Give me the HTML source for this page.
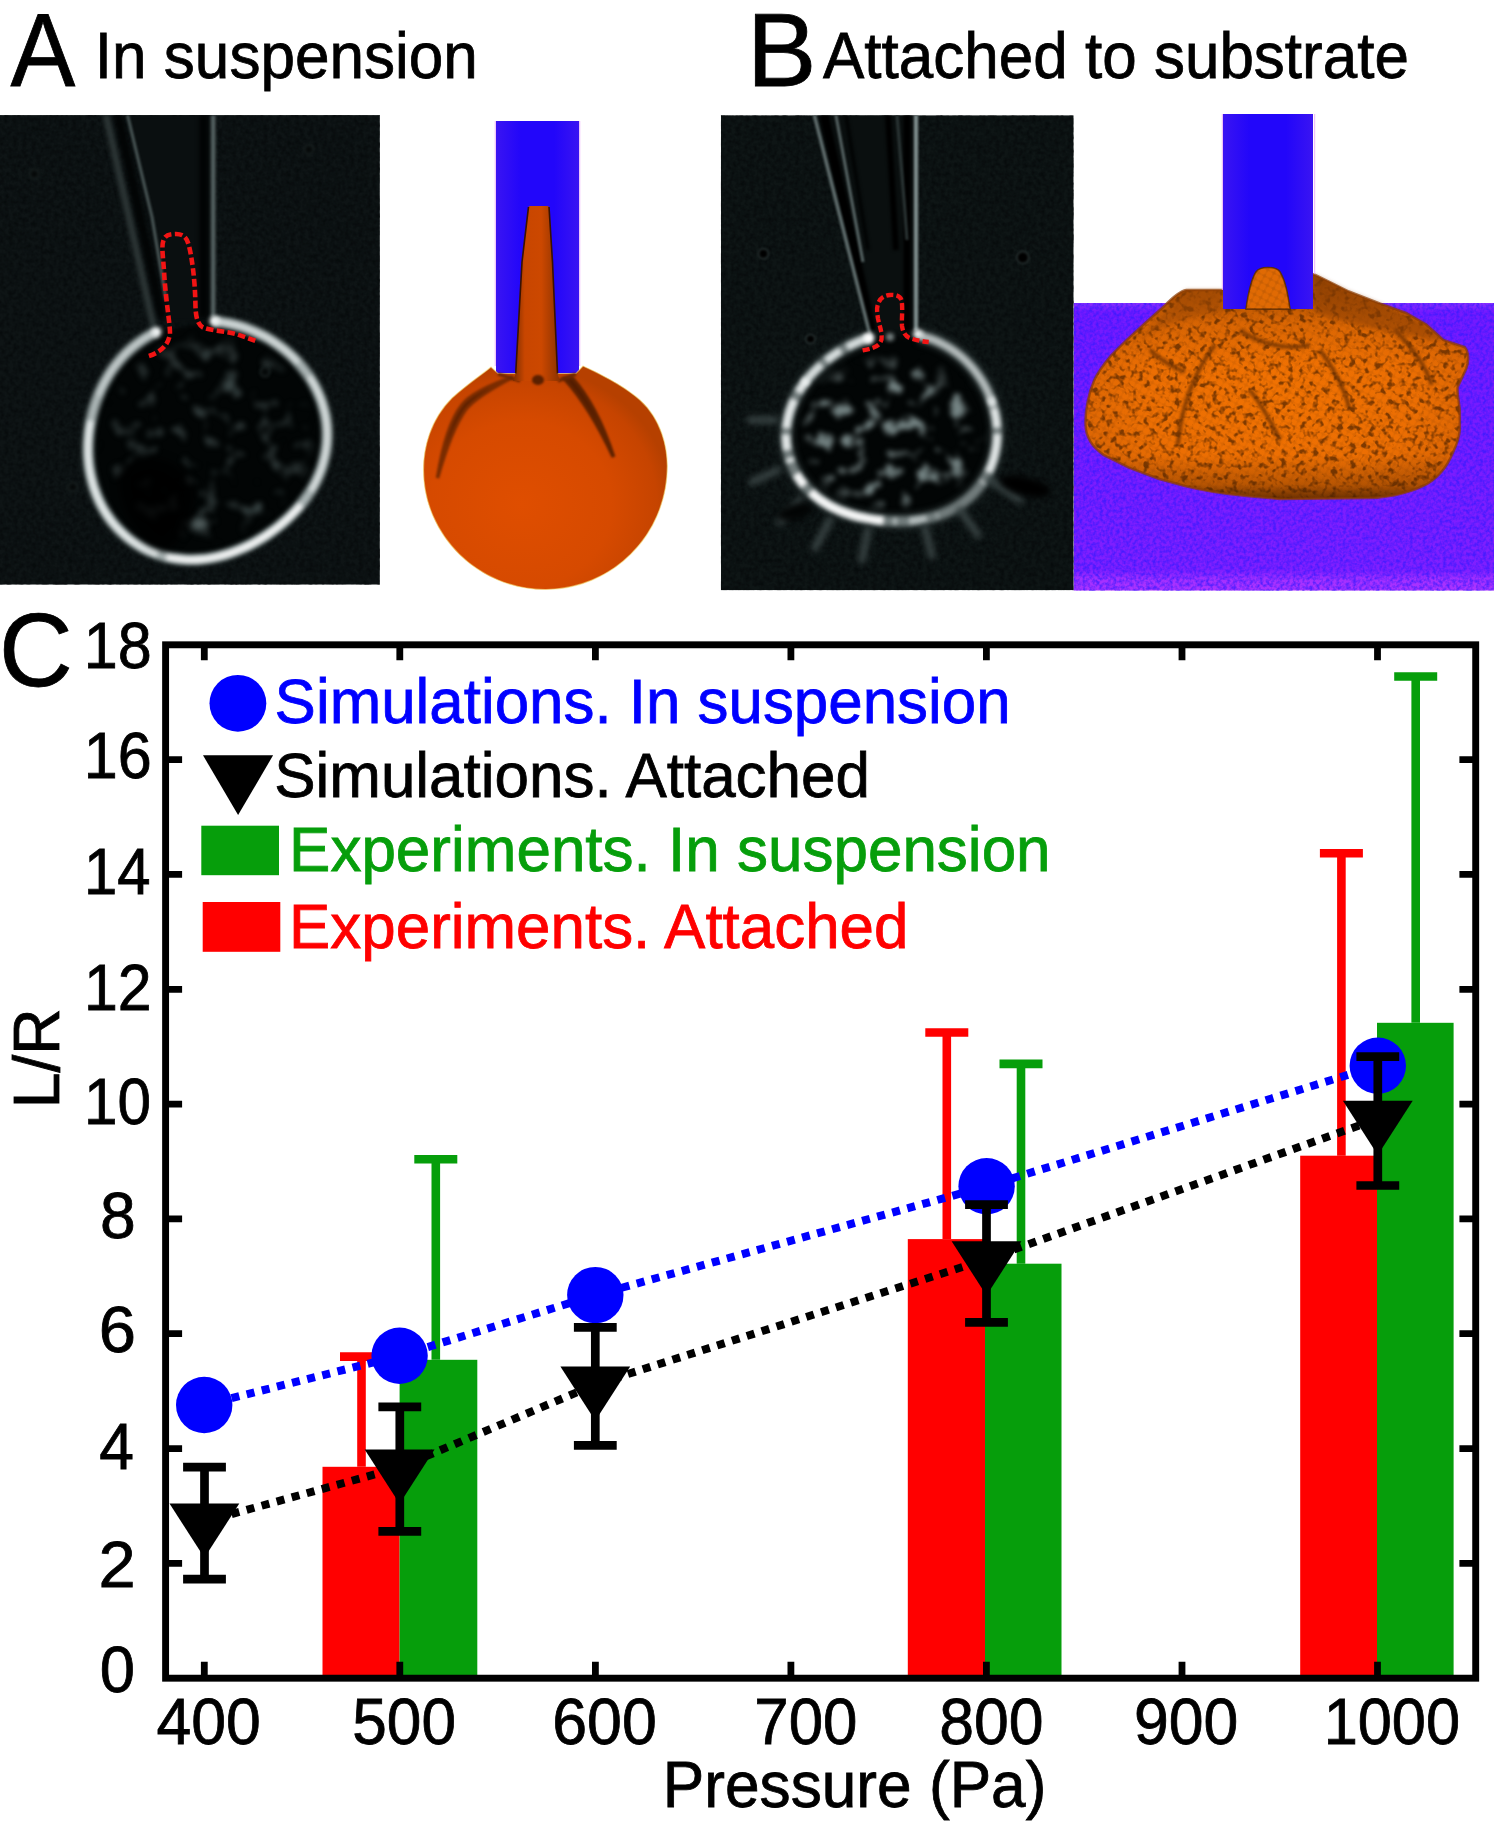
<!DOCTYPE html>
<html><head><meta charset="utf-8"><title>Figure</title>
<style>html,body{margin:0;padding:0;background:#fff}svg{display:block}text{font-family:"Liberation Sans",sans-serif}</style>
</head><body>
<svg width="1494" height="1821" viewBox="0 0 1494 1821">
<rect width="1494" height="1821" fill="#fff"/>
<text transform="translate(10.41,86.20) scale(0.9280,1)" font-size="104.65" fill="#000" stroke="#000" stroke-width="0.8" >A</text>
<text transform="translate(94.81,78.10) scale(0.9472,1)" font-size="65.55" fill="#000" stroke="#000" stroke-width="0.8" >In suspension</text>
<text transform="translate(746.73,86.20) scale(1.0002,1)" font-size="104.65" fill="#000" stroke="#000" stroke-width="0.8" >B</text>
<text transform="translate(822.99,78.10) scale(0.9460,1)" font-size="65.55" fill="#000" stroke="#000" stroke-width="0.8" >Attached to substrate</text>
<text transform="translate(-1.10,686.30) scale(0.9753,1)" font-size="104.65" fill="#000" stroke="#000" stroke-width="0.8" >C</text>
<defs>
<filter color-interpolation-filters="sRGB" id="b1" filterUnits="userSpaceOnUse" x="0" y="100" width="1494" height="500"><feGaussianBlur stdDeviation="1"/></filter>
<filter color-interpolation-filters="sRGB" id="b15" filterUnits="userSpaceOnUse" x="0" y="100" width="1494" height="500"><feGaussianBlur stdDeviation="1.6"/></filter>
<filter color-interpolation-filters="sRGB" id="b2" filterUnits="userSpaceOnUse" x="0" y="100" width="1494" height="500"><feGaussianBlur stdDeviation="2.2"/></filter>
<filter color-interpolation-filters="sRGB" id="b3" filterUnits="userSpaceOnUse" x="0" y="100" width="1494" height="500"><feGaussianBlur stdDeviation="3.2"/></filter>
<filter color-interpolation-filters="sRGB" id="b5" filterUnits="userSpaceOnUse" x="0" y="100" width="1494" height="500"><feGaussianBlur stdDeviation="5"/></filter>
<filter color-interpolation-filters="sRGB" id="b8" filterUnits="userSpaceOnUse" x="0" y="100" width="1494" height="500"><feGaussianBlur stdDeviation="8"/></filter>
<filter color-interpolation-filters="sRGB" id="noise" x="0" y="0" width="100%" height="100%">
 <feTurbulence type="fractalNoise" baseFrequency="0.22" numOctaves="2" seed="3" result="n"/>
 <feColorMatrix in="n" type="matrix" values="0 0 0 0 0.025  0 0 0 0 0.04  0 0 0 0 0.045  2.2 0 0 0 -0.75"/>
</filter>
<filter color-interpolation-filters="sRGB" id="motA" filterUnits="userSpaceOnUse" x="60" y="300" width="300" height="290">
 <feTurbulence type="fractalNoise" baseFrequency="0.05" numOctaves="2" seed="11" result="n"/>
 <feColorMatrix in="n" type="matrix" values="0 0 0 0 0.24  0 0 0 0 0.29  0 0 0 0 0.29  4.0 0 0 0 -2.2" result="c"/>
 <feGaussianBlur in="SourceAlpha" stdDeviation="6" result="m"/>
 <feComposite in="c" in2="m" operator="in"/><feGaussianBlur stdDeviation="2.8"/>
</filter>
<filter color-interpolation-filters="sRGB" id="motB" filterUnits="userSpaceOnUse" x="760" y="320" width="270" height="230">
 <feTurbulence type="fractalNoise" baseFrequency="0.06" numOctaves="2" seed="5" result="n"/>
 <feColorMatrix in="n" type="matrix" values="0 0 0 0 0.46  0 0 0 0 0.52  0 0 0 0 0.52  5.0 0 0 0 -2.65" result="c"/>
 <feGaussianBlur in="SourceAlpha" stdDeviation="6" result="m"/>
 <feComposite in="c" in2="m" operator="in"/><feGaussianBlur stdDeviation="2.4"/>
</filter>
<linearGradient id="gCol" x1="0" x2="1" y1="0" y2="0"><stop offset="0" stop-color="#3a14f2"/><stop offset="0.3" stop-color="#2206fa"/><stop offset="0.7" stop-color="#2206fa"/><stop offset="1" stop-color="#3a14f2"/></linearGradient>
<filter color-interpolation-filters="sRGB" id="noiseP" x="0" y="0" width="100%" height="100%">
 <feTurbulence type="fractalNoise" baseFrequency="0.3" numOctaves="2" seed="9" result="n"/>
 <feColorMatrix in="n" type="matrix" values="0 0 0 0 0.2  0 0 0 0 0.1  0 0 0 0 1  2.4 0 0 0 -0.85"/>
</filter>
<linearGradient id="gMsh" gradientUnits="userSpaceOnUse" x1="0" x2="0" y1="274" y2="500">
 <stop offset="0" stop-color="#5a2800" stop-opacity="0.55"/><stop offset="0.22" stop-color="#5a2800" stop-opacity="0.12"/><stop offset="0.4" stop-color="#5a2800" stop-opacity="0"/>
 <stop offset="0.8" stop-color="#4a2000" stop-opacity="0"/><stop offset="0.93" stop-color="#4a2000" stop-opacity="0.3"/><stop offset="1" stop-color="#3a1800" stop-opacity="0.75"/>
</linearGradient>
<filter color-interpolation-filters="sRGB" id="motM" filterUnits="userSpaceOnUse" x="1070" y="260" width="424" height="250">
 <feTurbulence type="fractalNoise" baseFrequency="0.16" numOctaves="2" seed="21" result="n"/>
 <feColorMatrix in="n" type="matrix" values="0 0 0 0 0.36  0 0 0 0 0.16  0 0 0 0 0.0  4.5 0 0 0 -2.3" result="c"/>
 <feComposite in="c" in2="SourceAlpha" operator="in"/>
</filter>
<clipPath id="cA"><rect x="0" y="115.1" width="379.9" height="469.6"/></clipPath>
<clipPath id="cB"><rect x="720.9" y="115.2" width="352.8" height="475.0"/></clipPath>
<clipPath id="cS"><rect x="1073.7" y="100" width="420.3" height="490.7"/></clipPath>
<radialGradient id="gSph" cx="0.40" cy="0.62" r="0.62">
 <stop offset="0" stop-color="#df4e00"/><stop offset="0.6" stop-color="#d64a00"/><stop offset="0.9" stop-color="#c64400"/><stop offset="1" stop-color="#b64000"/>
</radialGradient>
<linearGradient id="gTon" x1="0" x2="1" y1="0" y2="0">
 <stop offset="0" stop-color="#7a2c00"/><stop offset="0.25" stop-color="#c84600"/><stop offset="0.6" stop-color="#cc4800"/><stop offset="1" stop-color="#8a3200"/>
</linearGradient>
<linearGradient id="gPur" x1="0" x2="0" y1="0" y2="1">
 <stop offset="0" stop-color="#8a30ff"/><stop offset="0.03" stop-color="#741aff"/><stop offset="0.5" stop-color="#781cff"/><stop offset="0.93" stop-color="#8020ff"/><stop offset="0.96" stop-color="#a430ff"/><stop offset="1" stop-color="#ac34ff"/>
</linearGradient>
<radialGradient id="gMnd" cx="0.5" cy="0.55" r="0.6">
 <stop offset="0" stop-color="#f27202"/><stop offset="0.6" stop-color="#ec6e03"/><stop offset="0.9" stop-color="#d66204"/><stop offset="1" stop-color="#b85205"/>
</radialGradient>
<pattern id="bump" width="7" height="7" patternUnits="userSpaceOnUse" patternTransform="rotate(28)">
 <rect width="7" height="7" fill="#9a4a04"/><circle cx="3.5" cy="3.5" r="3.2" fill="#ea7003"/>
</pattern>
</defs>
<g clip-path="url(#cA)">
<rect x="0" y="115.1" width="379.9" height="469.6" fill="#0e1415"/>
<rect x="0" y="115.1" width="379.9" height="469.6" filter="url(#noise)" opacity="0.8"/>
<path d="M128 115L210 115L210 322L166 322Z" fill="#0a0f10" filter="url(#b2)"/>
<path d="M106 115L154 328" stroke="#2c3535" stroke-width="7" fill="none" filter="url(#b2)"/>
<path d="M118 115L162 318" stroke="#020404" stroke-width="8" fill="none" filter="url(#b2)"/>
<path d="M127.5 115L152 217L166 300" stroke="#465252" stroke-width="3.2" fill="none" filter="url(#b1)"/>
<path d="M203.5 115V318" stroke="#010303" stroke-width="8" fill="none" filter="url(#b2)"/>
<path d="M213.2 115V318" stroke="#566363" stroke-width="4.5" fill="none" filter="url(#b15)"/>
<path d="M156.1 332.0C154.8 332.7 150.9 334.6 148.3 336.1C145.8 337.6 143.3 339.2 140.9 340.9C138.5 342.6 136.1 344.4 133.8 346.3C131.6 348.1 129.4 350.1 127.2 352.1C125.1 354.2 123.1 356.3 121.1 358.5C119.2 360.7 117.3 362.9 115.5 365.3C113.7 367.6 112.0 370.0 110.4 372.4C108.8 374.9 107.3 377.4 105.9 379.9C104.4 382.4 103.1 385.0 101.8 387.6C100.5 390.3 99.4 392.9 98.3 395.6C97.2 398.3 96.2 401.1 95.2 403.8C94.3 406.6 93.5 409.4 92.7 412.2C92.0 415.0 91.3 417.9 90.8 420.7C90.2 423.6 89.7 426.5 89.3 429.4C88.9 432.3 88.6 435.2 88.4 438.1C88.1 441.0 88.0 444.0 88.0 446.9C87.9 449.9 88.0 452.8 88.1 455.8C88.3 458.8 88.6 461.7 88.9 464.7C89.3 467.7 89.7 470.6 90.3 473.6C90.9 476.5 91.6 479.5 92.4 482.4C93.1 485.3 94.0 488.2 95.1 491.0C96.1 493.9 97.2 496.7 98.5 499.5C99.7 502.3 101.1 505.0 102.6 507.7C104.1 510.4 105.7 513.0 107.4 515.5C109.1 518.1 110.9 520.6 112.9 523.0C114.8 525.3 116.9 527.6 119.0 529.8C121.2 532.0 123.4 534.2 125.8 536.1C128.1 538.1 130.6 540.0 133.1 541.8C135.6 543.5 138.2 545.2 140.9 546.7C143.5 548.2 146.3 549.6 149.1 550.9C151.9 552.1 154.7 553.2 157.6 554.2C160.5 555.2 163.4 556.1 166.3 556.8C169.3 557.5 172.2 558.1 175.2 558.5C178.2 559.0 181.2 559.3 184.1 559.5C187.1 559.7 190.1 559.8 193.0 559.7C196.0 559.7 198.9 559.5 201.8 559.2C204.7 559.0 207.6 558.6 210.5 558.1C213.3 557.6 216.2 557.0 218.9 556.4C221.7 555.7 224.5 555.0 227.2 554.1C229.9 553.3 232.5 552.4 235.1 551.4C237.8 550.4 240.3 549.3 242.9 548.2C245.4 547.1 247.9 545.9 250.3 544.7C252.8 543.4 255.2 542.1 257.5 540.8C259.9 539.4 262.2 538.0 264.5 536.6C266.8 535.1 269.0 533.6 271.2 532.0C273.4 530.5 275.6 528.9 277.7 527.2C279.8 525.5 281.9 523.8 283.9 522.0C286.0 520.2 288.0 518.4 289.9 516.5C291.9 514.6 293.8 512.7 295.6 510.7C297.5 508.7 299.3 506.6 301.0 504.5C302.8 502.3 304.4 500.2 306.1 497.9C307.7 495.7 309.2 493.3 310.7 491.0C312.2 488.6 313.6 486.2 314.9 483.7C316.2 481.2 317.4 478.6 318.5 476.0C319.6 473.4 320.7 470.8 321.6 468.1C322.5 465.4 323.3 462.6 324.0 459.8C324.7 457.1 325.3 454.2 325.8 451.4C326.3 448.6 326.6 445.7 326.9 442.8C327.1 439.9 327.2 437.0 327.2 434.1C327.2 431.2 327.0 428.3 326.8 425.4C326.5 422.5 326.1 419.6 325.6 416.7C325.1 413.8 324.4 411.0 323.6 408.2C322.9 405.3 322.0 402.5 321.0 399.8C320.0 397.0 318.9 394.3 317.7 391.7C316.4 389.0 315.1 386.4 313.7 383.9C312.2 381.3 310.7 378.8 309.1 376.4C307.5 374.0 305.7 371.6 303.9 369.3C302.1 367.0 300.3 364.8 298.3 362.6C296.3 360.5 294.3 358.4 292.2 356.4C290.1 354.4 287.9 352.5 285.7 350.6C283.4 348.8 281.1 347.0 278.8 345.3C276.4 343.6 274.0 342.0 271.6 340.5C269.1 338.9 266.6 337.5 264.0 336.1C261.5 334.8 258.9 333.5 256.2 332.3C253.6 331.1 250.9 330.0 248.2 329.0C245.5 327.9 242.7 327.0 239.9 326.2C237.1 325.4 234.3 324.6 231.5 324.0C228.6 323.3 225.8 322.8 222.9 322.4C220.0 321.9 215.6 321.5 214.2 321.3Z" fill="#020505" filter="url(#b2)"/>
<path d="M156.1 332.0C154.8 332.7 150.9 334.6 148.3 336.1C145.8 337.6 143.3 339.2 140.9 340.9C138.5 342.6 136.1 344.4 133.8 346.3C131.6 348.1 129.4 350.1 127.2 352.1C125.1 354.2 123.1 356.3 121.1 358.5C119.2 360.7 117.3 362.9 115.5 365.3C113.7 367.6 112.0 370.0 110.4 372.4C108.8 374.9 107.3 377.4 105.9 379.9C104.4 382.4 103.1 385.0 101.8 387.6C100.5 390.3 99.4 392.9 98.3 395.6C97.2 398.3 96.2 401.1 95.2 403.8C94.3 406.6 93.5 409.4 92.7 412.2C92.0 415.0 91.3 417.9 90.8 420.7C90.2 423.6 89.7 426.5 89.3 429.4C88.9 432.3 88.6 435.2 88.4 438.1C88.1 441.0 88.0 444.0 88.0 446.9C87.9 449.9 88.0 452.8 88.1 455.8C88.3 458.8 88.6 461.7 88.9 464.7C89.3 467.7 89.7 470.6 90.3 473.6C90.9 476.5 91.6 479.5 92.4 482.4C93.1 485.3 94.0 488.2 95.1 491.0C96.1 493.9 97.2 496.7 98.5 499.5C99.7 502.3 101.1 505.0 102.6 507.7C104.1 510.4 105.7 513.0 107.4 515.5C109.1 518.1 110.9 520.6 112.9 523.0C114.8 525.3 116.9 527.6 119.0 529.8C121.2 532.0 123.4 534.2 125.8 536.1C128.1 538.1 130.6 540.0 133.1 541.8C135.6 543.5 138.2 545.2 140.9 546.7C143.5 548.2 146.3 549.6 149.1 550.9C151.9 552.1 154.7 553.2 157.6 554.2C160.5 555.2 163.4 556.1 166.3 556.8C169.3 557.5 172.2 558.1 175.2 558.5C178.2 559.0 181.2 559.3 184.1 559.5C187.1 559.7 190.1 559.8 193.0 559.7C196.0 559.7 198.9 559.5 201.8 559.2C204.7 559.0 207.6 558.6 210.5 558.1C213.3 557.6 216.2 557.0 218.9 556.4C221.7 555.7 224.5 555.0 227.2 554.1C229.9 553.3 232.5 552.4 235.1 551.4C237.8 550.4 240.3 549.3 242.9 548.2C245.4 547.1 247.9 545.9 250.3 544.7C252.8 543.4 255.2 542.1 257.5 540.8C259.9 539.4 262.2 538.0 264.5 536.6C266.8 535.1 269.0 533.6 271.2 532.0C273.4 530.5 275.6 528.9 277.7 527.2C279.8 525.5 281.9 523.8 283.9 522.0C286.0 520.2 288.0 518.4 289.9 516.5C291.9 514.6 293.8 512.7 295.6 510.7C297.5 508.7 299.3 506.6 301.0 504.5C302.8 502.3 304.4 500.2 306.1 497.9C307.7 495.7 309.2 493.3 310.7 491.0C312.2 488.6 313.6 486.2 314.9 483.7C316.2 481.2 317.4 478.6 318.5 476.0C319.6 473.4 320.7 470.8 321.6 468.1C322.5 465.4 323.3 462.6 324.0 459.8C324.7 457.1 325.3 454.2 325.8 451.4C326.3 448.6 326.6 445.7 326.9 442.8C327.1 439.9 327.2 437.0 327.2 434.1C327.2 431.2 327.0 428.3 326.8 425.4C326.5 422.5 326.1 419.6 325.6 416.7C325.1 413.8 324.4 411.0 323.6 408.2C322.9 405.3 322.0 402.5 321.0 399.8C320.0 397.0 318.9 394.3 317.7 391.7C316.4 389.0 315.1 386.4 313.7 383.9C312.2 381.3 310.7 378.8 309.1 376.4C307.5 374.0 305.7 371.6 303.9 369.3C302.1 367.0 300.3 364.8 298.3 362.6C296.3 360.5 294.3 358.4 292.2 356.4C290.1 354.4 287.9 352.5 285.7 350.6C283.4 348.8 281.1 347.0 278.8 345.3C276.4 343.6 274.0 342.0 271.6 340.5C269.1 338.9 266.6 337.5 264.0 336.1C261.5 334.8 258.9 333.5 256.2 332.3C253.6 331.1 250.9 330.0 248.2 329.0C245.5 327.9 242.7 327.0 239.9 326.2C237.1 325.4 234.3 324.6 231.5 324.0C228.6 323.3 225.8 322.8 222.9 322.4C220.0 321.9 215.6 321.5 214.2 321.3" stroke="#3a4444" stroke-width="13" fill="none" filter="url(#b2)"/>
<path d="M156.1 332.0C154.8 332.7 150.9 334.6 148.3 336.1C145.8 337.6 143.3 339.2 140.9 340.9C138.5 342.6 136.1 344.4 133.8 346.3C131.6 348.1 129.4 350.1 127.2 352.1C125.1 354.2 123.1 356.3 121.1 358.5C119.2 360.7 117.3 362.9 115.5 365.3C113.7 367.6 112.0 370.0 110.4 372.4C108.8 374.9 107.3 377.4 105.9 379.9C104.4 382.4 103.1 385.0 101.8 387.6C100.5 390.3 99.4 392.9 98.3 395.6C97.2 398.3 96.2 401.1 95.2 403.8C94.3 406.6 93.5 409.4 92.7 412.2C92.0 415.0 91.3 417.9 90.8 420.7C90.2 423.6 89.7 426.5 89.3 429.4C88.9 432.3 88.6 435.2 88.4 438.1C88.1 441.0 88.0 444.0 88.0 446.9C87.9 449.9 88.0 452.8 88.1 455.8C88.3 458.8 88.6 461.7 88.9 464.7C89.3 467.7 89.7 470.6 90.3 473.6C90.9 476.5 91.6 479.5 92.4 482.4C93.1 485.3 94.0 488.2 95.1 491.0C96.1 493.9 97.2 496.7 98.5 499.5C99.7 502.3 101.1 505.0 102.6 507.7C104.1 510.4 105.7 513.0 107.4 515.5C109.1 518.1 110.9 520.6 112.9 523.0C114.8 525.3 116.9 527.6 119.0 529.8C121.2 532.0 123.4 534.2 125.8 536.1C128.1 538.1 130.6 540.0 133.1 541.8C135.6 543.5 138.2 545.2 140.9 546.7C143.5 548.2 146.3 549.6 149.1 550.9C151.9 552.1 154.7 553.2 157.6 554.2C160.5 555.2 163.4 556.1 166.3 556.8C169.3 557.5 172.2 558.1 175.2 558.5C178.2 559.0 181.2 559.3 184.1 559.5C187.1 559.7 190.1 559.8 193.0 559.7C196.0 559.7 198.9 559.5 201.8 559.2C204.7 559.0 207.6 558.6 210.5 558.1C213.3 557.6 216.2 557.0 218.9 556.4C221.7 555.7 224.5 555.0 227.2 554.1C229.9 553.3 232.5 552.4 235.1 551.4C237.8 550.4 240.3 549.3 242.9 548.2C245.4 547.1 247.9 545.9 250.3 544.7C252.8 543.4 255.2 542.1 257.5 540.8C259.9 539.4 262.2 538.0 264.5 536.6C266.8 535.1 269.0 533.6 271.2 532.0C273.4 530.5 275.6 528.9 277.7 527.2C279.8 525.5 281.9 523.8 283.9 522.0C286.0 520.2 288.0 518.4 289.9 516.5C291.9 514.6 293.8 512.7 295.6 510.7C297.5 508.7 299.3 506.6 301.0 504.5C302.8 502.3 304.4 500.2 306.1 497.9C307.7 495.7 309.2 493.3 310.7 491.0C312.2 488.6 313.6 486.2 314.9 483.7C316.2 481.2 317.4 478.6 318.5 476.0C319.6 473.4 320.7 470.8 321.6 468.1C322.5 465.4 323.3 462.6 324.0 459.8C324.7 457.1 325.3 454.2 325.8 451.4C326.3 448.6 326.6 445.7 326.9 442.8C327.1 439.9 327.2 437.0 327.2 434.1C327.2 431.2 327.0 428.3 326.8 425.4C326.5 422.5 326.1 419.6 325.6 416.7C325.1 413.8 324.4 411.0 323.6 408.2C322.9 405.3 322.0 402.5 321.0 399.8C320.0 397.0 318.9 394.3 317.7 391.7C316.4 389.0 315.1 386.4 313.7 383.9C312.2 381.3 310.7 378.8 309.1 376.4C307.5 374.0 305.7 371.6 303.9 369.3C302.1 367.0 300.3 364.8 298.3 362.6C296.3 360.5 294.3 358.4 292.2 356.4C290.1 354.4 287.9 352.5 285.7 350.6C283.4 348.8 281.1 347.0 278.8 345.3C276.4 343.6 274.0 342.0 271.6 340.5C269.1 338.9 266.6 337.5 264.0 336.1C261.5 334.8 258.9 333.5 256.2 332.3C253.6 331.1 250.9 330.0 248.2 329.0C245.5 327.9 242.7 327.0 239.9 326.2C237.1 325.4 234.3 324.6 231.5 324.0C228.6 323.3 225.8 322.8 222.9 322.4C220.0 321.9 215.6 321.5 214.2 321.3" stroke="#aab4b4" stroke-width="8.5" fill="none" filter="url(#b2)"/>
<path d="M90.8 420.7C90.5 422.2 89.7 426.5 89.3 429.4C88.9 432.3 88.6 435.2 88.4 438.1C88.1 441.0 88.0 444.0 88.0 446.9C87.9 449.9 88.0 452.8 88.1 455.8C88.3 458.8 88.6 461.7 88.9 464.7C89.3 467.7 89.7 470.6 90.3 473.6C90.9 476.5 91.6 479.5 92.4 482.4C93.1 485.3 94.0 488.2 95.1 491.0C96.1 493.9 97.2 496.7 98.5 499.5C99.7 502.3 101.1 505.0 102.6 507.7C104.1 510.4 105.7 513.0 107.4 515.5C109.1 518.1 110.9 520.6 112.9 523.0C114.8 525.3 116.9 527.6 119.0 529.8C121.2 532.0 123.4 534.2 125.8 536.1C128.1 538.1 130.6 540.0 133.1 541.8C135.6 543.5 138.2 545.2 140.9 546.7C143.5 548.2 146.3 549.6 149.1 550.9C151.9 552.1 156.2 553.7 157.6 554.2" stroke="#f4f8f8" stroke-width="5" fill="none" filter="url(#b2)" opacity="0.85"/>
<path d="M166.3 556.8C167.8 557.1 172.2 558.1 175.2 558.5C178.2 559.0 181.2 559.3 184.1 559.5C187.1 559.7 190.1 559.8 193.0 559.7C196.0 559.7 198.9 559.5 201.8 559.2C204.7 559.0 207.6 558.6 210.5 558.1C213.3 557.6 216.2 557.0 218.9 556.4C221.7 555.7 224.5 555.0 227.2 554.1C229.9 553.3 232.5 552.4 235.1 551.4C237.8 550.4 240.3 549.3 242.9 548.2C245.4 547.1 247.9 545.9 250.3 544.7C252.8 543.4 255.2 542.1 257.5 540.8C259.9 539.4 262.2 538.0 264.5 536.6C266.8 535.1 269.0 533.6 271.2 532.0C273.4 530.5 275.6 528.9 277.7 527.2C279.8 525.5 281.9 523.8 283.9 522.0C286.0 520.2 288.0 518.4 289.9 516.5C291.9 514.6 293.8 512.7 295.6 510.7C297.5 508.7 300.1 505.5 301.0 504.5" stroke="#ffffff" stroke-width="5.5" fill="none" filter="url(#b2)" opacity="0.9"/>
<path d="M310.7 491.0C311.4 489.8 313.6 486.2 314.9 483.7C316.2 481.2 317.4 478.6 318.5 476.0C319.6 473.4 320.7 470.8 321.6 468.1C322.5 465.4 323.3 462.6 324.0 459.8C324.7 457.1 325.3 454.2 325.8 451.4C326.3 448.6 326.6 445.7 326.9 442.8C327.1 439.9 327.2 437.0 327.2 434.1C327.2 431.2 327.0 428.3 326.8 425.4C326.5 422.5 326.1 419.6 325.6 416.7C325.1 413.8 324.4 411.0 323.6 408.2C322.9 405.3 322.0 402.5 321.0 399.8C320.0 397.0 318.9 394.3 317.7 391.7C316.4 389.0 315.1 386.4 313.7 383.9C312.2 381.3 309.8 377.6 309.1 376.4" stroke="#eef2f2" stroke-width="4.5" fill="none" filter="url(#b2)" opacity="0.7"/>
<path d="M156.1 332.0C154.8 332.7 150.9 334.6 148.3 336.1C145.8 337.6 143.3 339.2 140.9 340.9C138.5 342.6 136.1 344.4 133.8 346.3C131.6 348.1 129.4 350.1 127.2 352.1C125.1 354.2 123.1 356.3 121.1 358.5C119.2 360.7 117.3 362.9 115.5 365.3C113.7 367.6 112.0 370.0 110.4 372.4C108.8 374.9 107.3 377.4 105.9 379.9C104.4 382.4 103.1 385.0 101.8 387.6C100.5 390.3 98.9 394.3 98.3 395.6" stroke="#dde3e3" stroke-width="4" fill="none" filter="url(#b2)" opacity="0.5"/>
<path d="M298.3 362.6C297.3 361.6 294.3 358.4 292.2 356.4C290.1 354.4 287.9 352.5 285.7 350.6C283.4 348.8 281.1 347.0 278.8 345.3C276.4 343.6 274.0 342.0 271.6 340.5C269.1 338.9 266.6 337.5 264.0 336.1C261.5 334.8 258.9 333.5 256.2 332.3C253.6 331.1 250.9 330.0 248.2 329.0C245.5 327.9 242.7 327.0 239.9 326.2C237.1 325.4 234.3 324.6 231.5 324.0C228.6 323.3 225.8 322.8 222.9 322.4C220.0 321.9 215.6 321.5 214.2 321.3" stroke="#e8eeee" stroke-width="4.5" fill="none" filter="url(#b2)" opacity="0.7"/>
<circle cx="156.5" cy="332" r="5" fill="#f0f4f4" filter="url(#b2)"/>
<circle cx="214.5" cy="321" r="5" fill="#f0f4f4" filter="url(#b2)"/>
<ellipse cx="208.5" cy="438" rx="100" ry="98" fill="#fff" filter="url(#motA)"/>
<ellipse cx="199" cy="524" rx="9" ry="7" fill="#4c5858" filter="url(#b3)"/>
<path d="M120 470C140 450 175 455 190 480C200 505 185 540 165 550C135 545 115 500 120 470Z" fill="#000" filter="url(#b5)" opacity="0.8"/>
<circle cx="34.3" cy="174" r="4.5" fill="#050808" stroke="#1a2222" stroke-width="2" filter="url(#b15)"/>
<circle cx="308.9" cy="149.4" r="4.5" fill="#050808" stroke="#1a2222" stroke-width="2" filter="url(#b15)"/>
<circle cx="72.8" cy="487" r="4.5" fill="#050808" stroke="#1a2222" stroke-width="2" filter="url(#b15)"/>
<circle cx="265" cy="372" r="4.5" fill="#050808" stroke="#1a2222" stroke-width="2" filter="url(#b15)"/>
<path d="M148.9 356C158 353 168 347 170 334C170 322 166 304 164 271C163 255 161 245 164 239C166 235 170 234 176 234C184 234 187 238 189 246C192 258 195 280 195.4 303.5C195.6 316 197 324 203 327.5C212 331 226 331 238 334.6L256 341" stroke="#f21414" stroke-width="4.6" fill="none" stroke-dasharray="7.5 3.3"/>
</g>
<rect x="496" y="121" width="83" height="252.5" fill="url(#gCol)"/>
<path d="M495.3 121V366M579.7 121V366" stroke="#e8a8f8" stroke-width="1.2" opacity="0.7" fill="none"/>
<path d="M491 367L498 373.5H576L583 366C596 372 622 384 640 400C662 420 667.3 448 667.3 466C667.3 535 612 589.5 545.5 589.5C478 589.5 423.5 535 423.5 470C423.5 448 430 420 452 398C470 382 484 373 491 367Z" fill="url(#gSph)"/>
<path d="M491 367L498 373.5H576L583 366C596 372 622 384 640 400C662 420 667.3 448 667.3 466C667.3 535 612 589.5 545.5 589.5C478 589.5 423.5 535 423.5 470C423.5 448 430 420 452 398C470 382 484 373 491 367Z" fill="none" stroke="#f6e27a" stroke-width="1.2" opacity="0.55"/>
<path d="M513 377C490 385 470 395 462 405C450 420 442 450 437.5 478C446 448 455 424 466 409C475 398 492 388 513 377Z" fill="#5a2000" stroke="#7a2c00" stroke-width="3.5" filter="url(#b1)"/>
<path d="M565 379C582 398 600 428 613.5 457C603 425 590 398 572 378Z" fill="#4e1a00" stroke="#5e2200" stroke-width="4" filter="url(#b1)"/>
<path d="M498 374L520 381M576 374L558 381" stroke="#6a2600" stroke-width="3" filter="url(#b1)"/>
<path d="M528.5 207.5Q528.5 206 530 206H547.5Q549 206 549 207.5L552.5 262L557.5 373.5L560 381H513L515.7 373.5L522 262Z" fill="url(#gTon)"/>
<path d="M528.5 207L522 262L515.7 373.5M549 207L552.5 262L557.5 373.5" stroke="#3a1200" stroke-width="1.6" fill="none"/>
<ellipse cx="538" cy="380" rx="6" ry="5" fill="#5a2000" filter="url(#b1)"/>
<g clip-path="url(#cB)">
<rect x="720.9" y="115.2" width="352.8" height="475" fill="#0e1515"/>
<rect x="720.9" y="115.2" width="352.8" height="475" filter="url(#noise)" opacity="0.8"/>
<path d="M816 115H916V332L872 338Z" fill="#0a0f0f" filter="url(#b2)"/>
<path d="M824 115L872 330" stroke="#000" stroke-width="9" fill="none" filter="url(#b15)"/>
<path d="M846 115L868 250" stroke="#020404" stroke-width="4" fill="none" filter="url(#b15)"/>
<path d="M907 115V330" stroke="#000" stroke-width="7" fill="none" filter="url(#b15)"/>
<path d="M888 115L896 250" stroke="#000" stroke-width="6" fill="none" filter="url(#b15)"/>
<path d="M814.3 115L870.5 337" stroke="#5e6b6b" stroke-width="3.6" fill="none" filter="url(#b1)"/>
<path d="M835.9 115L857.5 232L863 262" stroke="#566363" stroke-width="3" fill="none" filter="url(#b1)"/>
<path d="M897 115L904.6 207L907 240" stroke="#2c3636" stroke-width="3" fill="none" filter="url(#b1)"/>
<path d="M916 115V331" stroke="#7c8a8a" stroke-width="4.4" fill="none" filter="url(#b1)"/>
<path d="M869.1 338.0C868.1 338.3 865.4 339.2 863.6 339.8C861.8 340.4 860.0 341.1 858.2 341.8C856.5 342.6 854.7 343.3 853.0 344.1C851.3 344.9 849.6 345.8 847.9 346.6C846.2 347.5 844.5 348.4 842.9 349.4C841.2 350.3 839.6 351.3 838.0 352.3C836.3 353.4 834.7 354.4 833.2 355.5C831.6 356.6 830.0 357.7 828.5 358.9C826.9 360.1 825.4 361.3 823.9 362.5C822.4 363.8 821.0 365.0 819.5 366.4C818.1 367.7 816.6 369.0 815.2 370.5C813.9 371.9 812.5 373.3 811.1 374.8C809.8 376.3 808.5 377.8 807.2 379.3C806.0 380.9 804.7 382.5 803.6 384.2C802.4 385.8 801.2 387.5 800.1 389.2C799.0 391.0 798.0 392.8 797.0 394.6C796.0 396.4 795.0 398.2 794.1 400.1C793.3 402.0 792.4 403.9 791.7 405.9C790.9 407.9 790.2 409.9 789.6 411.9C789.0 413.9 788.5 416.0 788.0 418.0C787.5 420.1 787.1 422.2 786.8 424.3C786.5 426.4 786.3 428.6 786.2 430.7C786.1 432.8 786.0 435.0 786.0 437.1C786.1 439.3 786.2 441.4 786.4 443.6C786.7 445.7 787.0 447.8 787.4 450.0C787.8 452.1 788.3 454.2 788.8 456.2C789.4 458.3 790.1 460.4 790.8 462.4C791.6 464.4 792.4 466.4 793.3 468.3C794.2 470.2 795.2 472.1 796.3 474.0C797.4 475.8 798.5 477.6 799.7 479.4C801.0 481.1 802.2 482.8 803.6 484.4C804.9 486.1 806.3 487.7 807.8 489.2C809.2 490.7 810.8 492.1 812.3 493.5C813.9 494.9 815.5 496.3 817.1 497.5C818.7 498.8 820.4 500.0 822.1 501.1C823.8 502.3 825.6 503.4 827.3 504.4C829.1 505.4 830.8 506.4 832.6 507.3C834.4 508.2 836.2 509.0 838.0 509.8C839.8 510.6 841.7 511.3 843.5 512.0C845.3 512.7 847.2 513.3 849.0 513.9C850.8 514.5 852.7 515.1 854.5 515.6C856.3 516.1 858.2 516.5 860.0 517.0C861.9 517.4 863.7 517.8 865.5 518.1C867.4 518.5 869.2 518.8 871.0 519.1C872.9 519.4 874.7 519.7 876.5 519.9C878.3 520.1 880.2 520.3 882.0 520.5C883.8 520.7 885.7 520.8 887.5 520.9C889.3 521.1 891.2 521.2 893.0 521.2C894.9 521.3 896.7 521.3 898.6 521.3C900.4 521.3 902.3 521.3 904.1 521.2C906.0 521.1 907.9 521.0 909.8 520.9C911.6 520.7 913.5 520.5 915.4 520.3C917.3 520.1 919.2 519.8 921.1 519.5C923.0 519.2 924.9 518.8 926.8 518.4C928.7 518.0 930.6 517.5 932.5 517.0C934.4 516.5 936.3 515.9 938.1 515.3C940.0 514.6 941.9 514.0 943.8 513.2C945.6 512.4 947.5 511.6 949.3 510.7C951.1 509.8 952.9 508.9 954.7 507.9C956.5 506.9 958.2 505.8 959.9 504.6C961.6 503.5 963.3 502.3 964.9 501.0C966.6 499.7 968.2 498.4 969.7 497.0C971.3 495.6 972.8 494.1 974.2 492.6C975.7 491.1 977.1 489.5 978.4 487.9C979.7 486.2 981.0 484.5 982.2 482.8C983.4 481.1 984.5 479.3 985.6 477.4C986.7 475.6 987.7 473.7 988.6 471.8C989.5 469.9 990.4 467.9 991.2 465.9C991.9 464.0 992.6 462.0 993.3 459.9C993.9 457.9 994.5 455.8 994.9 453.7C995.4 451.7 995.8 449.6 996.1 447.5C996.5 445.3 996.7 443.2 996.9 441.1C997.1 439.0 997.1 436.8 997.2 434.7C997.2 432.6 997.1 430.5 997.0 428.3C996.9 426.2 996.7 424.1 996.5 422.0C996.2 419.9 995.9 417.8 995.5 415.7C995.1 413.7 994.6 411.6 994.1 409.6C993.6 407.5 993.0 405.5 992.3 403.5C991.7 401.5 991.0 399.5 990.2 397.6C989.5 395.6 988.6 393.7 987.8 391.8C986.9 389.9 986.0 388.1 985.0 386.2C984.0 384.4 983.0 382.6 981.9 380.8C980.8 379.1 979.6 377.4 978.5 375.7C977.3 374.0 976.0 372.3 974.8 370.7C973.5 369.1 972.2 367.5 970.8 366.0C969.4 364.5 968.0 363.0 966.6 361.5C965.1 360.1 963.6 358.7 962.1 357.3C960.5 356.0 959.0 354.7 957.4 353.5C955.8 352.2 954.1 351.0 952.4 349.9C950.8 348.7 949.0 347.6 947.3 346.6C945.6 345.6 943.8 344.6 942.0 343.7C940.2 342.8 938.4 341.9 936.5 341.1C934.7 340.3 932.8 339.6 930.9 338.9C929.0 338.3 927.1 337.6 925.2 337.1C923.3 336.5 920.4 335.9 919.4 335.6Z" fill="#020505" filter="url(#b3)"/>
<path d="M869.1 338.0C868.1 338.3 865.4 339.2 863.6 339.8C861.8 340.4 860.0 341.1 858.2 341.8C856.5 342.6 854.7 343.3 853.0 344.1C851.3 344.9 849.6 345.8 847.9 346.6C846.2 347.5 844.5 348.4 842.9 349.4C841.2 350.3 839.6 351.3 838.0 352.3C836.3 353.4 834.7 354.4 833.2 355.5C831.6 356.6 830.0 357.7 828.5 358.9C826.9 360.1 825.4 361.3 823.9 362.5C822.4 363.8 821.0 365.0 819.5 366.4C818.1 367.7 816.6 369.0 815.2 370.5C813.9 371.9 812.5 373.3 811.1 374.8C809.8 376.3 808.5 377.8 807.2 379.3C806.0 380.9 804.7 382.5 803.6 384.2C802.4 385.8 801.2 387.5 800.1 389.2C799.0 391.0 798.0 392.8 797.0 394.6C796.0 396.4 795.0 398.2 794.1 400.1C793.3 402.0 792.4 403.9 791.7 405.9C790.9 407.9 790.2 409.9 789.6 411.9C789.0 413.9 788.5 416.0 788.0 418.0C787.5 420.1 787.1 422.2 786.8 424.3C786.5 426.4 786.3 428.6 786.2 430.7C786.1 432.8 786.0 435.0 786.0 437.1C786.1 439.3 786.2 441.4 786.4 443.6C786.7 445.7 787.0 447.8 787.4 450.0C787.8 452.1 788.3 454.2 788.8 456.2C789.4 458.3 790.1 460.4 790.8 462.4C791.6 464.4 792.4 466.4 793.3 468.3C794.2 470.2 795.2 472.1 796.3 474.0C797.4 475.8 798.5 477.6 799.7 479.4C801.0 481.1 802.2 482.8 803.6 484.4C804.9 486.1 806.3 487.7 807.8 489.2C809.2 490.7 810.8 492.1 812.3 493.5C813.9 494.9 815.5 496.3 817.1 497.5C818.7 498.8 820.4 500.0 822.1 501.1C823.8 502.3 825.6 503.4 827.3 504.4C829.1 505.4 830.8 506.4 832.6 507.3C834.4 508.2 836.2 509.0 838.0 509.8C839.8 510.6 841.7 511.3 843.5 512.0C845.3 512.7 847.2 513.3 849.0 513.9C850.8 514.5 852.7 515.1 854.5 515.6C856.3 516.1 858.2 516.5 860.0 517.0C861.9 517.4 863.7 517.8 865.5 518.1C867.4 518.5 869.2 518.8 871.0 519.1C872.9 519.4 874.7 519.7 876.5 519.9C878.3 520.1 880.2 520.3 882.0 520.5C883.8 520.7 885.7 520.8 887.5 520.9C889.3 521.1 891.2 521.2 893.0 521.2C894.9 521.3 896.7 521.3 898.6 521.3C900.4 521.3 902.3 521.3 904.1 521.2C906.0 521.1 907.9 521.0 909.8 520.9C911.6 520.7 913.5 520.5 915.4 520.3C917.3 520.1 919.2 519.8 921.1 519.5C923.0 519.2 924.9 518.8 926.8 518.4C928.7 518.0 930.6 517.5 932.5 517.0C934.4 516.5 936.3 515.9 938.1 515.3C940.0 514.6 941.9 514.0 943.8 513.2C945.6 512.4 947.5 511.6 949.3 510.7C951.1 509.8 952.9 508.9 954.7 507.9C956.5 506.9 958.2 505.8 959.9 504.6C961.6 503.5 963.3 502.3 964.9 501.0C966.6 499.7 968.2 498.4 969.7 497.0C971.3 495.6 972.8 494.1 974.2 492.6C975.7 491.1 977.1 489.5 978.4 487.9C979.7 486.2 981.0 484.5 982.2 482.8C983.4 481.1 984.5 479.3 985.6 477.4C986.7 475.6 987.7 473.7 988.6 471.8C989.5 469.9 990.4 467.9 991.2 465.9C991.9 464.0 992.6 462.0 993.3 459.9C993.9 457.9 994.5 455.8 994.9 453.7C995.4 451.7 995.8 449.6 996.1 447.5C996.5 445.3 996.7 443.2 996.9 441.1C997.1 439.0 997.1 436.8 997.2 434.7C997.2 432.6 997.1 430.5 997.0 428.3C996.9 426.2 996.7 424.1 996.5 422.0C996.2 419.9 995.9 417.8 995.5 415.7C995.1 413.7 994.6 411.6 994.1 409.6C993.6 407.5 993.0 405.5 992.3 403.5C991.7 401.5 991.0 399.5 990.2 397.6C989.5 395.6 988.6 393.7 987.8 391.8C986.9 389.9 986.0 388.1 985.0 386.2C984.0 384.4 983.0 382.6 981.9 380.8C980.8 379.1 979.6 377.4 978.5 375.7C977.3 374.0 976.0 372.3 974.8 370.7C973.5 369.1 972.2 367.5 970.8 366.0C969.4 364.5 968.0 363.0 966.6 361.5C965.1 360.1 963.6 358.7 962.1 357.3C960.5 356.0 959.0 354.7 957.4 353.5C955.8 352.2 954.1 351.0 952.4 349.9C950.8 348.7 949.0 347.6 947.3 346.6C945.6 345.6 943.8 344.6 942.0 343.7C940.2 342.8 938.4 341.9 936.5 341.1C934.7 340.3 932.8 339.6 930.9 338.9C929.0 338.3 927.1 337.6 925.2 337.1C923.3 336.5 920.4 335.9 919.4 335.6" stroke="#2e3838" stroke-width="14" fill="none" filter="url(#b3)"/>
<path d="M869.1 338.0C868.1 338.3 865.4 339.2 863.6 339.8C861.8 340.4 860.0 341.1 858.2 341.8C856.5 342.6 854.7 343.3 853.0 344.1C851.3 344.9 849.6 345.8 847.9 346.6C846.2 347.5 844.5 348.4 842.9 349.4C841.2 350.3 839.6 351.3 838.0 352.3C836.3 353.4 834.7 354.4 833.2 355.5C831.6 356.6 830.0 357.7 828.5 358.9C826.9 360.1 825.4 361.3 823.9 362.5C822.4 363.8 821.0 365.0 819.5 366.4C818.1 367.7 816.6 369.0 815.2 370.5C813.9 371.9 812.5 373.3 811.1 374.8C809.8 376.3 808.5 377.8 807.2 379.3C806.0 380.9 804.7 382.5 803.6 384.2C802.4 385.8 801.2 387.5 800.1 389.2C799.0 391.0 798.0 392.8 797.0 394.6C796.0 396.4 795.0 398.2 794.1 400.1C793.3 402.0 792.4 403.9 791.7 405.9C790.9 407.9 790.2 409.9 789.6 411.9C789.0 413.9 788.5 416.0 788.0 418.0C787.5 420.1 787.1 422.2 786.8 424.3C786.5 426.4 786.3 428.6 786.2 430.7C786.1 432.8 786.0 435.0 786.0 437.1C786.1 439.3 786.2 441.4 786.4 443.6C786.7 445.7 787.0 447.8 787.4 450.0C787.8 452.1 788.3 454.2 788.8 456.2C789.4 458.3 790.1 460.4 790.8 462.4C791.6 464.4 792.4 466.4 793.3 468.3C794.2 470.2 795.2 472.1 796.3 474.0C797.4 475.8 798.5 477.6 799.7 479.4C801.0 481.1 802.2 482.8 803.6 484.4C804.9 486.1 806.3 487.7 807.8 489.2C809.2 490.7 810.8 492.1 812.3 493.5C813.9 494.9 815.5 496.3 817.1 497.5C818.7 498.8 820.4 500.0 822.1 501.1C823.8 502.3 825.6 503.4 827.3 504.4C829.1 505.4 830.8 506.4 832.6 507.3C834.4 508.2 836.2 509.0 838.0 509.8C839.8 510.6 841.7 511.3 843.5 512.0C845.3 512.7 847.2 513.3 849.0 513.9C850.8 514.5 852.7 515.1 854.5 515.6C856.3 516.1 858.2 516.5 860.0 517.0C861.9 517.4 863.7 517.8 865.5 518.1C867.4 518.5 869.2 518.8 871.0 519.1C872.9 519.4 874.7 519.7 876.5 519.9C878.3 520.1 880.2 520.3 882.0 520.5C883.8 520.7 885.7 520.8 887.5 520.9C889.3 521.1 891.2 521.2 893.0 521.2C894.9 521.3 896.7 521.3 898.6 521.3C900.4 521.3 902.3 521.3 904.1 521.2C906.0 521.1 907.9 521.0 909.8 520.9C911.6 520.7 913.5 520.5 915.4 520.3C917.3 520.1 919.2 519.8 921.1 519.5C923.0 519.2 924.9 518.8 926.8 518.4C928.7 518.0 930.6 517.5 932.5 517.0C934.4 516.5 936.3 515.9 938.1 515.3C940.0 514.6 941.9 514.0 943.8 513.2C945.6 512.4 947.5 511.6 949.3 510.7C951.1 509.8 952.9 508.9 954.7 507.9C956.5 506.9 958.2 505.8 959.9 504.6C961.6 503.5 963.3 502.3 964.9 501.0C966.6 499.7 968.2 498.4 969.7 497.0C971.3 495.6 972.8 494.1 974.2 492.6C975.7 491.1 977.1 489.5 978.4 487.9C979.7 486.2 981.0 484.5 982.2 482.8C983.4 481.1 984.5 479.3 985.6 477.4C986.7 475.6 987.7 473.7 988.6 471.8C989.5 469.9 990.4 467.9 991.2 465.9C991.9 464.0 992.6 462.0 993.3 459.9C993.9 457.9 994.5 455.8 994.9 453.7C995.4 451.7 995.8 449.6 996.1 447.5C996.5 445.3 996.7 443.2 996.9 441.1C997.1 439.0 997.1 436.8 997.2 434.7C997.2 432.6 997.1 430.5 997.0 428.3C996.9 426.2 996.7 424.1 996.5 422.0C996.2 419.9 995.9 417.8 995.5 415.7C995.1 413.7 994.6 411.6 994.1 409.6C993.6 407.5 993.0 405.5 992.3 403.5C991.7 401.5 991.0 399.5 990.2 397.6C989.5 395.6 988.6 393.7 987.8 391.8C986.9 389.9 986.0 388.1 985.0 386.2C984.0 384.4 983.0 382.6 981.9 380.8C980.8 379.1 979.6 377.4 978.5 375.7C977.3 374.0 976.0 372.3 974.8 370.7C973.5 369.1 972.2 367.5 970.8 366.0C969.4 364.5 968.0 363.0 966.6 361.5C965.1 360.1 963.6 358.7 962.1 357.3C960.5 356.0 959.0 354.7 957.4 353.5C955.8 352.2 954.1 351.0 952.4 349.9C950.8 348.7 949.0 347.6 947.3 346.6C945.6 345.6 943.8 344.6 942.0 343.7C940.2 342.8 938.4 341.9 936.5 341.1C934.7 340.3 932.8 339.6 930.9 338.9C929.0 338.3 927.1 337.6 925.2 337.1C923.3 336.5 920.4 335.9 919.4 335.6" stroke="#727c7c" stroke-width="9" fill="none" filter="url(#b2)"/>
<path d="M869.1 338.0C868.1 338.3 865.4 339.2 863.6 339.8C861.8 340.4 860.0 341.1 858.2 341.8C856.5 342.6 854.7 343.3 853.0 344.1C851.3 344.9 849.6 345.8 847.9 346.6C846.2 347.5 844.5 348.4 842.9 349.4C841.2 350.3 839.6 351.3 838.0 352.3C836.3 353.4 834.7 354.4 833.2 355.5C831.6 356.6 830.0 357.7 828.5 358.9C826.9 360.1 825.4 361.3 823.9 362.5C822.4 363.8 821.0 365.0 819.5 366.4C818.1 367.7 816.6 369.0 815.2 370.5C813.9 371.9 812.5 373.3 811.1 374.8C809.8 376.3 808.5 377.8 807.2 379.3C806.0 380.9 804.2 383.4 803.6 384.2" stroke="#e4eaea" stroke-width="7" fill="none" filter="url(#b2)" stroke-dasharray="24 7 18 6 30 8" opacity="0.9"/>
<path d="M807.2 379.3C806.6 380.2 804.7 382.5 803.6 384.2C802.4 385.8 801.2 387.5 800.1 389.2C799.0 391.0 798.0 392.8 797.0 394.6C796.0 396.4 795.0 398.2 794.1 400.1C793.3 402.0 792.4 403.9 791.7 405.9C790.9 407.9 790.2 409.9 789.6 411.9C789.0 413.9 788.5 416.0 788.0 418.0C787.5 420.1 787.1 422.2 786.8 424.3C786.5 426.4 786.3 428.6 786.2 430.7C786.1 432.8 786.0 435.0 786.0 437.1C786.1 439.3 786.2 441.4 786.4 443.6C786.7 445.7 787.0 447.8 787.4 450.0C787.8 452.1 788.3 454.2 788.8 456.2C789.4 458.3 790.5 461.3 790.8 462.4" stroke="#f0f4f4" stroke-width="7.5" fill="none" filter="url(#b2)" stroke-dasharray="16 8 30 6" opacity="0.9"/>
<path d="M796.3 474.0C796.9 474.9 798.5 477.6 799.7 479.4C801.0 481.1 802.2 482.8 803.6 484.4C804.9 486.1 806.3 487.7 807.8 489.2C809.2 490.7 810.8 492.1 812.3 493.5C813.9 494.9 815.5 496.3 817.1 497.5C818.7 498.8 820.4 500.0 822.1 501.1C823.8 502.3 825.6 503.4 827.3 504.4C829.1 505.4 830.8 506.4 832.6 507.3C834.4 508.2 836.2 509.0 838.0 509.8C839.8 510.6 841.7 511.3 843.5 512.0C845.3 512.7 847.2 513.3 849.0 513.9C850.8 514.5 852.7 515.1 854.5 515.6C856.3 516.1 858.2 516.5 860.0 517.0C861.9 517.4 863.7 517.8 865.5 518.1C867.4 518.5 869.2 518.8 871.0 519.1C872.9 519.4 874.7 519.7 876.5 519.9C878.3 520.1 880.2 520.3 882.0 520.5C883.8 520.7 886.6 520.9 887.5 520.9" stroke="#ffffff" stroke-width="8" fill="none" filter="url(#b2)" stroke-dasharray="14 9 80 4" opacity="0.95"/>
<path d="M893.0 521.2C893.9 521.2 896.7 521.3 898.6 521.3C900.4 521.3 902.3 521.3 904.1 521.2C906.0 521.1 907.9 521.0 909.8 520.9C911.6 520.7 913.5 520.5 915.4 520.3C917.3 520.1 919.2 519.8 921.1 519.5C923.0 519.2 924.9 518.8 926.8 518.4C928.7 518.0 930.6 517.5 932.5 517.0C934.4 516.5 937.2 515.6 938.1 515.3" stroke="#c8d0d0" stroke-width="6" fill="none" filter="url(#b2)" stroke-dasharray="4 12 18 10 16 20" opacity="0.8"/>
<path d="M982.2 482.8C982.8 481.9 984.5 479.3 985.6 477.4C986.7 475.6 987.7 473.7 988.6 471.8C989.5 469.9 990.4 467.9 991.2 465.9C991.9 464.0 992.6 462.0 993.3 459.9C993.9 457.9 994.5 455.8 994.9 453.7C995.4 451.7 995.8 449.6 996.1 447.5C996.5 445.3 996.7 443.2 996.9 441.1C997.1 439.0 997.1 436.8 997.2 434.7C997.2 432.6 997.1 430.5 997.0 428.3C996.9 426.2 996.7 424.1 996.5 422.0C996.2 419.9 995.9 417.8 995.5 415.7C995.1 413.7 994.6 411.6 994.1 409.6C993.6 407.5 993.0 405.5 992.3 403.5C991.7 401.5 990.6 398.6 990.2 397.6" stroke="#f0f4f4" stroke-width="7" fill="none" filter="url(#b2)" stroke-dasharray="2 10 40 6 20" opacity="0.9"/>
<path d="M992.3 403.5C992.0 402.5 991.0 399.5 990.2 397.6C989.5 395.6 988.6 393.7 987.8 391.8C986.9 389.9 986.0 388.1 985.0 386.2C984.0 384.4 983.0 382.6 981.9 380.8C980.8 379.1 979.6 377.4 978.5 375.7C977.3 374.0 976.0 372.3 974.8 370.7C973.5 369.1 972.2 367.5 970.8 366.0C969.4 364.5 968.0 363.0 966.6 361.5C965.1 360.1 963.6 358.7 962.1 357.3C960.5 356.0 959.0 354.7 957.4 353.5C955.8 352.2 954.1 351.0 952.4 349.9C950.8 348.7 949.0 347.6 947.3 346.6C945.6 345.6 943.8 344.6 942.0 343.7C940.2 342.8 938.4 341.9 936.5 341.1C934.7 340.3 932.8 339.6 930.9 338.9C929.0 338.3 927.1 337.6 925.2 337.1C923.3 336.5 920.4 335.9 919.4 335.6" stroke="#d8dede" stroke-width="5" fill="none" filter="url(#b2)" opacity="0.75"/>
<circle cx="869" cy="338" r="5.5" fill="#fff" filter="url(#b2)"/>
<circle cx="918" cy="334" r="5" fill="#e8eeee" filter="url(#b2)"/>
<circle cx="890" cy="337" r="4" fill="#7c8686" filter="url(#b2)"/>
<path d="M800 500L780 522" stroke="#3a4545" stroke-width="7" stroke-linecap="round" filter="url(#b3)"/>
<path d="M830 520L815 548" stroke="#3a4545" stroke-width="7" stroke-linecap="round" filter="url(#b3)"/>
<path d="M868 530L862 560" stroke="#3a4545" stroke-width="7" stroke-linecap="round" filter="url(#b3)"/>
<path d="M925 528L932 556" stroke="#3a4545" stroke-width="7" stroke-linecap="round" filter="url(#b3)"/>
<path d="M960 510L978 535" stroke="#3a4545" stroke-width="7" stroke-linecap="round" filter="url(#b3)"/>
<path d="M990 480L1020 500" stroke="#3a4545" stroke-width="7" stroke-linecap="round" filter="url(#b3)"/>
<path d="M778 470L752 482" stroke="#3a4545" stroke-width="7" stroke-linecap="round" filter="url(#b3)"/>
<path d="M775 420L750 420" stroke="#3a4545" stroke-width="7" stroke-linecap="round" filter="url(#b3)"/>
<ellipse cx="1025.4" cy="486.4" rx="26" ry="9" transform="rotate(14 1025.4 486.4)" fill="#000" filter="url(#b3)"/>
<ellipse cx="795" cy="512" rx="18" ry="8" transform="rotate(-15 795 512)" fill="#020404" filter="url(#b3)"/>
<ellipse cx="892" cy="433" rx="88" ry="72" fill="#fff" filter="url(#motB)"/>
<circle cx="763.4" cy="253.8" r="5" fill="#000" stroke="#232c2c" stroke-width="2" filter="url(#b1)"/>
<circle cx="1022.8" cy="257.6" r="6" fill="#000" stroke="#232c2c" stroke-width="2" filter="url(#b1)"/>
<circle cx="810.5" cy="339" r="4.5" fill="#000" stroke="#232c2c" stroke-width="2" filter="url(#b1)"/>
<path d="M862.6 350.4C870 349 877 347.5 880 343C884 337 880 328 878 318.6C877 312 876.5 308 878 304C880 298 884 295.5 890 295C896 294.5 900 296 901.5 300C903 308 901.5 318 902 326C903 333 906 337 911 338.5C917 340.5 923 341.5 928.7 342" stroke="#f21414" stroke-width="4.4" fill="none" stroke-dasharray="7 3.2"/>
</g>
<g clip-path="url(#cS)">
<rect x="1073.7" y="303" width="420.3" height="287.7" fill="url(#gPur)"/>
<rect x="1073.7" y="303" width="420.3" height="287.7" filter="url(#noiseP)" opacity="0.7"/>
<path d="M1085.5 424C1085 410 1089 392 1094.3 380C1098 372 1104 364 1111.2 355.4L1126 340.7L1143.6 324.5L1164.3 306C1172 298 1180 291 1186.3 290L1222 290L1314 274.4L1327.3 280.8L1348.8 291.5L1380.3 303.7L1406 313L1426.1 324.5L1443.3 340L1464.8 347.2C1469 352 1469 362 1466.2 368.7L1457.6 387.3C1457 395 1459.8 405 1459.8 411.6L1459.8 430C1459 440 1456 446 1453.4 451.5C1450 460 1446 467 1440.5 473C1435 479 1430 483 1423.3 485.9C1415 490 1405 493 1394.6 495.2C1385 497 1375 498 1366 498L1280 499L1246.7 496C1225 494 1205 491 1184.9 486L1158.4 478.7L1128.9 467.6L1103.9 455.1C1098 451 1093 446 1090.6 441.9C1087 436 1085.5 430 1085.5 424Z" fill="url(#gMnd)"/>
<path d="M1085.5 424C1085 410 1089 392 1094.3 380C1098 372 1104 364 1111.2 355.4L1126 340.7L1143.6 324.5L1164.3 306C1172 298 1180 291 1186.3 290L1222 290L1314 274.4L1327.3 280.8L1348.8 291.5L1380.3 303.7L1406 313L1426.1 324.5L1443.3 340L1464.8 347.2C1469 352 1469 362 1466.2 368.7L1457.6 387.3C1457 395 1459.8 405 1459.8 411.6L1459.8 430C1459 440 1456 446 1453.4 451.5C1450 460 1446 467 1440.5 473C1435 479 1430 483 1423.3 485.9C1415 490 1405 493 1394.6 495.2C1385 497 1375 498 1366 498L1280 499L1246.7 496C1225 494 1205 491 1184.9 486L1158.4 478.7L1128.9 467.6L1103.9 455.1C1098 451 1093 446 1090.6 441.9C1087 436 1085.5 430 1085.5 424Z" fill="url(#bump)" opacity="0.22"/>
<path d="M1085.5 424C1085 410 1089 392 1094.3 380C1098 372 1104 364 1111.2 355.4L1126 340.7L1143.6 324.5L1164.3 306C1172 298 1180 291 1186.3 290L1222 290L1314 274.4L1327.3 280.8L1348.8 291.5L1380.3 303.7L1406 313L1426.1 324.5L1443.3 340L1464.8 347.2C1469 352 1469 362 1466.2 368.7L1457.6 387.3C1457 395 1459.8 405 1459.8 411.6L1459.8 430C1459 440 1456 446 1453.4 451.5C1450 460 1446 467 1440.5 473C1435 479 1430 483 1423.3 485.9C1415 490 1405 493 1394.6 495.2C1385 497 1375 498 1366 498L1280 499L1246.7 496C1225 494 1205 491 1184.9 486L1158.4 478.7L1128.9 467.6L1103.9 455.1C1098 451 1093 446 1090.6 441.9C1087 436 1085.5 430 1085.5 424Z" fill="#000" filter="url(#motM)" opacity="0.75"/>
<path d="M1085.5 424C1085 410 1089 392 1094.3 380C1098 372 1104 364 1111.2 355.4L1126 340.7L1143.6 324.5L1164.3 306C1172 298 1180 291 1186.3 290L1222 290L1314 274.4L1327.3 280.8L1348.8 291.5L1380.3 303.7L1406 313L1426.1 324.5L1443.3 340L1464.8 347.2C1469 352 1469 362 1466.2 368.7L1457.6 387.3C1457 395 1459.8 405 1459.8 411.6L1459.8 430C1459 440 1456 446 1453.4 451.5C1450 460 1446 467 1440.5 473C1435 479 1430 483 1423.3 485.9C1415 490 1405 493 1394.6 495.2C1385 497 1375 498 1366 498L1280 499L1246.7 496C1225 494 1205 491 1184.9 486L1158.4 478.7L1128.9 467.6L1103.9 455.1C1098 451 1093 446 1090.6 441.9C1087 436 1085.5 430 1085.5 424Z" fill="url(#gMsh)"/>
<path d="M1085.5 424C1085 410 1089 392 1094.3 380C1098 372 1104 364 1111.2 355.4L1126 340.7L1143.6 324.5L1164.3 306C1172 298 1180 291 1186.3 290L1222 290L1314 274.4L1327.3 280.8L1348.8 291.5L1380.3 303.7L1406 313L1426.1 324.5L1443.3 340L1464.8 347.2C1469 352 1469 362 1466.2 368.7L1457.6 387.3C1457 395 1459.8 405 1459.8 411.6L1459.8 430C1459 440 1456 446 1453.4 451.5C1450 460 1446 467 1440.5 473C1435 479 1430 483 1423.3 485.9C1415 490 1405 493 1394.6 495.2C1385 497 1375 498 1366 498L1280 499L1246.7 496C1225 494 1205 491 1184.9 486L1158.4 478.7L1128.9 467.6L1103.9 455.1C1098 451 1093 446 1090.6 441.9C1087 436 1085.5 430 1085.5 424Z" fill="none" stroke="#8a3c04" stroke-width="2.5" opacity="0.7"/>
<path d="M1215 345C1195 370 1180 410 1178 445" stroke="#6a3002" stroke-width="4" fill="none" filter="url(#b15)" opacity="0.8"/>
<path d="M1320 350C1335 370 1345 390 1350 410" stroke="#6a3002" stroke-width="4" fill="none" filter="url(#b15)" opacity="0.8"/>
<path d="M1250 390C1262 405 1270 420 1280 440" stroke="#6a3002" stroke-width="4" fill="none" filter="url(#b15)" opacity="0.8"/>
<path d="M1150 350C1160 360 1175 368 1185 372" stroke="#6a3002" stroke-width="4" fill="none" filter="url(#b15)" opacity="0.8"/>
<path d="M1395 330C1410 345 1425 365 1432 385" stroke="#6a3002" stroke-width="4" fill="none" filter="url(#b15)" opacity="0.8"/>
<path d="M1240 330C1260 345 1290 350 1310 345" stroke="#6a3002" stroke-width="4" fill="none" filter="url(#b15)" opacity="0.8"/>
<path d="M1186 290H1222V312C1200 315 1170 320 1140 340Z" fill="#a04a04" opacity="0.5" filter="url(#b2)"/>
<path d="M1314 274.4L1348.8 291.5L1380 303.7L1426 324.5L1444 341C1400 335 1350 325 1314 312Z" fill="#8a3e03" opacity="0.55" filter="url(#b2)"/>
</g>
<rect x="1223" y="114" width="90" height="195" fill="url(#gCol)"/>
<path d="M1222.4 114V290M1314.6 114V274" stroke="#eaa6f6" stroke-width="1.2" opacity="0.7" fill="none"/>
<path d="M1246 309C1248 295 1251 280 1256 272C1260 266 1276 266 1280 272C1286 282 1288 296 1290 309Z" fill="#dc6804" stroke="#5a2a02" stroke-width="1.5"/>
<path d="M1246 309C1248 295 1251 280 1256 272C1260 266 1276 266 1280 272C1286 282 1288 296 1290 309Z" fill="url(#bump)" opacity="0.3"/>
<rect x="322.5" y="1466.8" width="77.1" height="211.4" fill="#ff0000"/>
<rect x="399.6" y="1359.8" width="77.7" height="318.4" fill="#069e0b"/>
<rect x="907.8" y="1239.1" width="77.2" height="439.1" fill="#ff0000"/>
<rect x="985.0" y="1263.7" width="76.5" height="414.5" fill="#069e0b"/>
<rect x="1300.2" y="1155.7" width="76.8" height="522.5" fill="#ff0000"/>
<rect x="1377.0" y="1022.8" width="76.6" height="655.4" fill="#069e0b"/>
<path d="M361.5 1466.8V1356.6M340.0 1356.6H383.0" stroke="#ff0000" stroke-width="8.6" fill="none"/>
<path d="M435.8 1359.8V1159.3M414.3 1159.3H457.3" stroke="#069e0b" stroke-width="8.6" fill="none"/>
<path d="M946.8 1239.1V1032.5M925.3 1032.5H968.3" stroke="#ff0000" stroke-width="8.6" fill="none"/>
<path d="M1021.0 1263.7V1063.9M999.5 1063.9H1042.5" stroke="#069e0b" stroke-width="8.6" fill="none"/>
<path d="M1341.4 1155.7V853.3M1319.9 853.3H1362.9" stroke="#ff0000" stroke-width="8.6" fill="none"/>
<path d="M1415.7 1022.8V676.5M1394.2 676.5H1437.2" stroke="#069e0b" stroke-width="8.6" fill="none"/>
<polyline points="204.2,1405.0 399.6,1355.8 595.3,1295.1 986.6,1186.3 1377.8,1065.7" stroke="#0000ff" stroke-width="8" stroke-dasharray="8 7.6" stroke-dashoffset="3" fill="none"/>
<polyline points="204.4,1521.6 399.6,1467.5 595.3,1384.5 986.5,1259.3 1377.8,1118.8" stroke="#000" stroke-width="8" stroke-dasharray="8 7.6" stroke-dashoffset="3" fill="none"/>
<circle cx="204.2" cy="1405.0" r="28.2" fill="#0000ff"/>
<circle cx="399.6" cy="1355.8" r="28.2" fill="#0000ff"/>
<circle cx="595.3" cy="1295.1" r="28.2" fill="#0000ff"/>
<circle cx="986.6" cy="1186.3" r="28.2" fill="#0000ff"/>
<circle cx="1377.8" cy="1065.7" r="28.2" fill="#0000ff"/>
<path d="M204.5 1467.1V1579.2M183.1 1467.1H225.9M183.1 1579.2H225.9" stroke="#000" stroke-width="8.7" fill="none"/>
<path d="M399.8 1406.8V1531.4M378.40000000000003 1406.8H421.2M378.40000000000003 1531.4H421.2" stroke="#000" stroke-width="8.7" fill="none"/>
<path d="M595.3 1327.4V1445.4M573.9 1327.4H616.6999999999999M573.9 1445.4H616.6999999999999" stroke="#000" stroke-width="8.7" fill="none"/>
<path d="M986.5 1204.7V1322.3M965.1 1204.7H1007.9M965.1 1322.3H1007.9" stroke="#000" stroke-width="8.7" fill="none"/>
<path d="M1377.8 1056.6V1185.5M1356.3999999999999 1056.6H1399.2M1356.3999999999999 1185.5H1399.2" stroke="#000" stroke-width="8.7" fill="none"/>
<path d="M169.5 1503.5H239.3L204.4 1557.8Z" fill="#000"/>
<path d="M364.7 1449.4H434.5L399.6 1503.7Z" fill="#000"/>
<path d="M560.4 1366.4H630.2L595.3 1420.7Z" fill="#000"/>
<path d="M951.6 1241.2H1021.4L986.5 1295.5Z" fill="#000"/>
<path d="M1342.9 1100.7H1412.7L1377.8 1155.0Z" fill="#000"/>
<rect x="165.6" y="644.8" width="1310.1" height="1033.4" fill="none" stroke="#000" stroke-width="6.9"/>
<path d="M204.3 1678.2V1661.7M204.3 644.8V660.3M399.8 1678.2V1661.7M399.8 644.8V660.3M595.4 1678.2V1661.7M595.4 644.8V660.3M790.9 1678.2V1661.7M790.9 644.8V660.3M986.4 1678.2V1661.7M986.4 644.8V660.3M1182.0 1678.2V1661.7M1182.0 644.8V660.3M1377.5 1678.2V1661.7M1377.5 644.8V660.3M165.6 1563.4H182.1M1475.7 1563.4H1459.4M165.6 1448.6H182.1M1475.7 1448.6H1459.4M165.6 1333.7H182.1M1475.7 1333.7H1459.4M165.6 1218.9H182.1M1475.7 1218.9H1459.4M165.6 1104.1H182.1M1475.7 1104.1H1459.4M165.6 989.3H182.1M1475.7 989.3H1459.4M165.6 874.4H182.1M1475.7 874.4H1459.4M165.6 759.6H182.1M1475.7 759.6H1459.4" stroke="#000" stroke-width="6.8" fill="none"/>
<text transform="translate(83.82,668.10) scale(0.9511,1)" font-size="64.25" fill="#000" stroke="#000" stroke-width="0.8" >18</text>
<text transform="translate(83.82,777.90) scale(0.9511,1)" font-size="64.25" fill="#000" stroke="#000" stroke-width="0.8" >16</text>
<text transform="translate(83.91,893.60) scale(0.9308,1)" font-size="64.25" fill="#000" stroke="#000" stroke-width="0.8" >14</text>
<text transform="translate(84.04,1009.60) scale(0.9466,1)" font-size="64.25" fill="#000" stroke="#000" stroke-width="0.8" >12</text>
<text transform="translate(84.08,1124.10) scale(0.9386,1)" font-size="64.25" fill="#000" stroke="#000" stroke-width="0.8" >10</text>
<text transform="translate(99.91,1237.50) scale(1.0002,1)" font-size="64.25" fill="#000" stroke="#000" stroke-width="0.8" >8</text>
<text transform="translate(98.85,1352.20) scale(1.0422,1)" font-size="64.25" fill="#000" stroke="#000" stroke-width="0.8" >6</text>
<text transform="translate(99.24,1468.90) scale(0.9713,1)" font-size="64.25" fill="#000" stroke="#000" stroke-width="0.8" >4</text>
<text transform="translate(98.56,1586.90) scale(1.0400,1)" font-size="64.25" fill="#000" stroke="#000" stroke-width="0.8" >2</text>
<text transform="translate(99.67,1692.30) scale(0.9864,1)" font-size="64.25" fill="#000" stroke="#000" stroke-width="0.8" >0</text>
<text transform="translate(156.44,1744.00) scale(0.9737,1)" font-size="64.25" fill="#000" stroke="#000" stroke-width="0.8" >400</text>
<text transform="translate(352.31,1744.00) scale(0.9672,1)" font-size="64.25" fill="#000" stroke="#000" stroke-width="0.8" >500</text>
<text transform="translate(552.27,1744.00) scale(0.9753,1)" font-size="64.25" fill="#000" stroke="#000" stroke-width="0.8" >600</text>
<text transform="translate(754.31,1744.00) scale(0.9625,1)" font-size="64.25" fill="#000" stroke="#000" stroke-width="0.8" >700</text>
<text transform="translate(939.29,1744.00) scale(0.9732,1)" font-size="64.25" fill="#000" stroke="#000" stroke-width="0.8" >800</text>
<text transform="translate(1133.99,1744.00) scale(0.9732,1)" font-size="64.25" fill="#000" stroke="#000" stroke-width="0.8" >900</text>
<text transform="translate(1323.70,1744.00) scale(0.9538,1)" font-size="64.25" fill="#000" stroke="#000" stroke-width="0.8" >1000</text>
<text transform="translate(662.82,1807.40) scale(0.9680,1)" font-size="64.25" fill="#000" stroke="#000" stroke-width="0.8" >Pressure (Pa)</text>
<text transform="translate(59.40,1108.34) rotate(-90) scale(0.9828,1)" font-size="65.41" fill="#000" stroke="#000" stroke-width="0.8">L/R</text>
<circle cx="237.9" cy="703.3" r="28.4" fill="#0000ff"/>
<path d="M203 755.3H273.1L238.1 815Z" fill="#000"/>
<rect x="201.3" y="825.7" width="77.7" height="49.5" fill="#069e0b"/>
<rect x="202.7" y="902" width="77.6" height="49.8" fill="#ff0000"/>
<text transform="translate(274.62,722.90) scale(0.9729,1)" font-size="63.60" fill="#0000ff" stroke="#0000ff" stroke-width="0.8" >Simulations. In suspension</text>
<text transform="translate(274.21,797.00) scale(0.9743,1)" font-size="63.60" fill="#000" stroke="#000" stroke-width="0.8" >Simulations. Attached</text>
<text transform="translate(289.04,871.20) scale(0.9749,1)" font-size="63.60" fill="#069e0b" stroke="#069e0b" stroke-width="0.8" >Experiments. In suspension</text>
<text transform="translate(289.05,948.30) scale(0.9737,1)" font-size="63.60" fill="#ff0000" stroke="#ff0000" stroke-width="0.8" >Experiments. Attached</text>
</svg>
</body></html>
